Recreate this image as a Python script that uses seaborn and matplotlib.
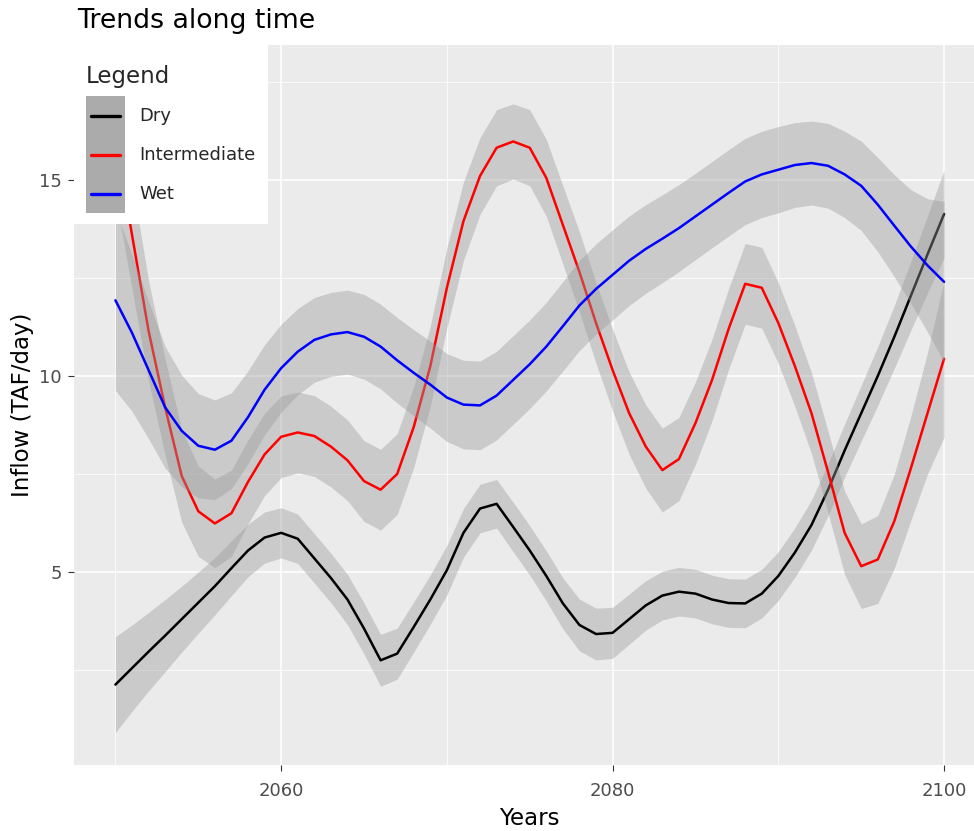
import matplotlib
matplotlib.use("Agg")
import numpy as np
import pandas as pd
import matplotlib.pyplot as plt
import seaborn as sns
from matplotlib.patches import Rectangle
from matplotlib.lines import Line2D
from matplotlib.legend_handler import HandlerBase
from matplotlib.ticker import MultipleLocator

# values, one per year
years = list(range(2050, 2101))

dry = [2.13, 2.55, 2.97, 3.38, 3.80, 4.22, 4.64, 5.10, 5.55, 5.88,
       6.00, 5.85, 5.35, 4.85, 4.30, 3.56, 2.75, 2.92, 3.60, 4.30,
       5.05, 6.00, 6.62, 6.74, 6.15, 5.55, 4.90, 4.20, 3.65, 3.42,
       3.45, 3.80, 4.15, 4.40, 4.50, 4.45, 4.30, 4.21, 4.20, 4.45,
       4.90, 5.50, 6.20, 7.10, 8.10, 9.05, 10.00, 11.00, 12.05, 13.10,
       14.13]
dry_se = [1.22, 1.10, 1.00, 0.92, 0.84, 0.78, 0.73, 0.70, 0.67, 0.65,
          0.64, 0.63, 0.63, 0.63, 0.64, 0.65, 0.66, 0.65, 0.64, 0.63,
          0.63, 0.62, 0.62, 0.62, 0.63, 0.63, 0.64, 0.65, 0.66, 0.66,
          0.65, 0.64, 0.63, 0.62, 0.62, 0.62, 0.62, 0.62, 0.62, 0.62,
          0.62, 0.63, 0.64, 0.66, 0.68, 0.71, 0.75, 0.80, 0.88, 0.98,
          1.12]

intermediate = [16.10, 13.60, 11.15, 9.20, 7.45, 6.55, 6.24, 6.50, 7.30, 8.00,
                8.45, 8.56, 8.47, 8.20, 7.85, 7.32, 7.10, 7.50, 8.70, 10.25,
                12.25, 13.95, 15.10, 15.82, 15.98, 15.82, 15.05, 13.85, 12.65, 11.35,
                10.15, 9.05, 8.20, 7.60, 7.88, 8.80, 9.90, 11.20, 12.35, 12.25,
                11.35, 10.25, 9.05, 7.55, 6.00, 5.15, 5.32, 6.30, 7.65, 9.05,
                10.44]
intermediate_se = [1.50, 1.38, 1.28, 1.22, 1.18, 1.15, 1.13, 1.10, 1.07, 1.05,
                   1.04, 1.03, 1.03, 1.03, 1.03, 1.03, 1.03, 1.03, 1.03, 1.02,
                   1.02, 1.00, 0.98, 0.97, 0.96, 0.97, 0.98, 1.00, 1.02, 1.03,
                   1.04, 1.05, 1.06, 1.07, 1.06, 1.05, 1.04, 1.03, 1.03, 1.03,
                   1.03, 1.03, 1.03, 1.04, 1.06, 1.08, 1.12, 1.20, 1.33, 1.55,
                   2.00]

wet = [11.93, 11.10, 10.15, 9.20, 8.60, 8.22, 8.12, 8.35, 8.95, 9.65,
       10.20, 10.62, 10.92, 11.06, 11.12, 11.00, 10.75, 10.40, 10.08, 9.78,
       9.45, 9.27, 9.25, 9.50, 9.90, 10.30, 10.75, 11.27, 11.80, 12.22,
       12.58, 12.94, 13.24, 13.50, 13.77, 14.07, 14.37, 14.67, 14.96, 15.14,
       15.26, 15.38, 15.43, 15.36, 15.14, 14.85, 14.37, 13.83, 13.30, 12.82,
       12.40]
wet_se = [2.30, 2.00, 1.75, 1.55, 1.42, 1.33, 1.27, 1.22, 1.18, 1.15,
          1.12, 1.10, 1.08, 1.07, 1.07, 1.08, 1.08, 1.09, 1.10, 1.11,
          1.12, 1.13, 1.13, 1.13, 1.13, 1.13, 1.13, 1.14, 1.15, 1.15,
          1.15, 1.14, 1.13, 1.12, 1.11, 1.10, 1.10, 1.10, 1.10, 1.10,
          1.10, 1.08, 1.07, 1.08, 1.10, 1.14, 1.20, 1.30, 1.45, 1.70,
          2.05]

scenarios = ["Dry", "Intermediate", "Wet"]
colors = {"Dry": "black", "Intermediate": "red", "Wet": "blue"}

W, H = 974, 831


class KeyHandler(HandlerBase):
    # grey key box with a coloured line, like the ggplot smooth legend
    def create_artists(self, legend, orig_handle, xdescent, ydescent,
                       width, height, fontsize, trans):
        x0, y0 = -xdescent, -ydescent
        bg = Rectangle((x0, y0), width, height, facecolor="#ABABAB",
                       edgecolor="none", transform=trans)
        yc = y0 + height / 2
        ln = Line2D([x0 + 0.13 * width, x0 + 0.87 * width], [yc, yc],
                    color=orig_handle.get_color(), lw=2.4, transform=trans)
        return [bg, ln]


def main():
    df = pd.concat([
        pd.DataFrame({"year": years, "inflow": dry, "se": dry_se, "scenario": "Dry"}),
        pd.DataFrame({"year": years, "inflow": intermediate, "se": intermediate_se,
                      "scenario": "Intermediate"}),
        pd.DataFrame({"year": years, "inflow": wet, "se": wet_se, "scenario": "Wet"}),
    ], ignore_index=True)

    sns.set_theme(style="darkgrid", rc={
        "axes.facecolor": "#EBEBEB",
        "grid.color": "white",
        "axes.axisbelow": True,
    })
    plt.rcParams["font.family"] = ["DejaVu Sans"]

    fig = plt.figure(figsize=(W / 100, H / 100), dpi=100)
    fig.patch.set_facecolor("white")
    ax = fig.add_axes([74 / W, 66 / H, (985.5 - 74) / W, (765 - 45) / H])

    for i, name in enumerate(scenarios):
        sub = df[df["scenario"] == name]
        ax.fill_between(sub["year"], sub["inflow"] - sub["se"], sub["inflow"] + sub["se"],
                        color="#999999", alpha=0.4, lw=0, zorder=2 + 2 * i)
        sns.lineplot(data=sub, x="year", y="inflow", color=colors[name], lw=1.8,
                     errorbar=None, ax=ax, zorder=3 + 2 * i, legend=False)

    ax.set_xlim(2047.5, 2102.5)
    ax.set_ylim(0.08, 18.44)
    ax.xaxis.set_major_locator(MultipleLocator(20))
    ax.xaxis.set_minor_locator(MultipleLocator(10))
    ax.yaxis.set_major_locator(MultipleLocator(5))
    ax.yaxis.set_minor_locator(MultipleLocator(2.5))
    ax.grid(which="major", color="white", lw=1.1)
    ax.grid(which="minor", color="white", lw=0.55)
    for s in ax.spines.values():
        s.set_visible(False)

    ax.tick_params(which="major", length=4.6, width=0.8, color="#333333",
                   labelcolor="#4D4D4D", labelsize=13, bottom=True, left=True)
    ax.tick_params(axis="x", pad=7.9)
    ax.tick_params(axis="y", pad=4.0)
    ax.tick_params(which="minor", length=0)

    ax.set_xlabel("Years", fontsize=16.5, color="black", labelpad=4.8)
    ax.set_ylabel("Inflow (TAF/day)", fontsize=16.5, color="black", labelpad=3.6)

    fig.text(77 / W, 1 - 28.5 / H, "Trends along time", fontsize=19.3,
             ha="left", va="baseline", color="black")

    # white legend background sitting on the panel
    ax.add_patch(Rectangle((74 / W, 1 - 224 / H), (268 - 74) / W, (224 - 40) / H,
                           transform=fig.transFigure, facecolor="white",
                           edgecolor="none", zorder=10, clip_on=False))

    handles = [Line2D([], [], color=colors[n]) for n in scenarios]
    leg = ax.legend(handles, scenarios, title="Legend", loc="upper left",
                    bbox_to_anchor=(86 / W, 1 - 64.5 / H), bbox_transform=fig.transFigure,
                    frameon=False, borderpad=0, borderaxespad=0, labelspacing=0,
                    handlelength=2.17, handleheight=2.945, handletextpad=0.78,
                    fontsize=13, title_fontsize=16.5, alignment="left",
                    handler_map={Line2D: KeyHandler()})
    leg._legend_box.sep = 6.2
    leg.set_zorder(11)

    fig.savefig("out.png", dpi=100)
    plt.close(fig)


if __name__ == "__main__":
    main()
